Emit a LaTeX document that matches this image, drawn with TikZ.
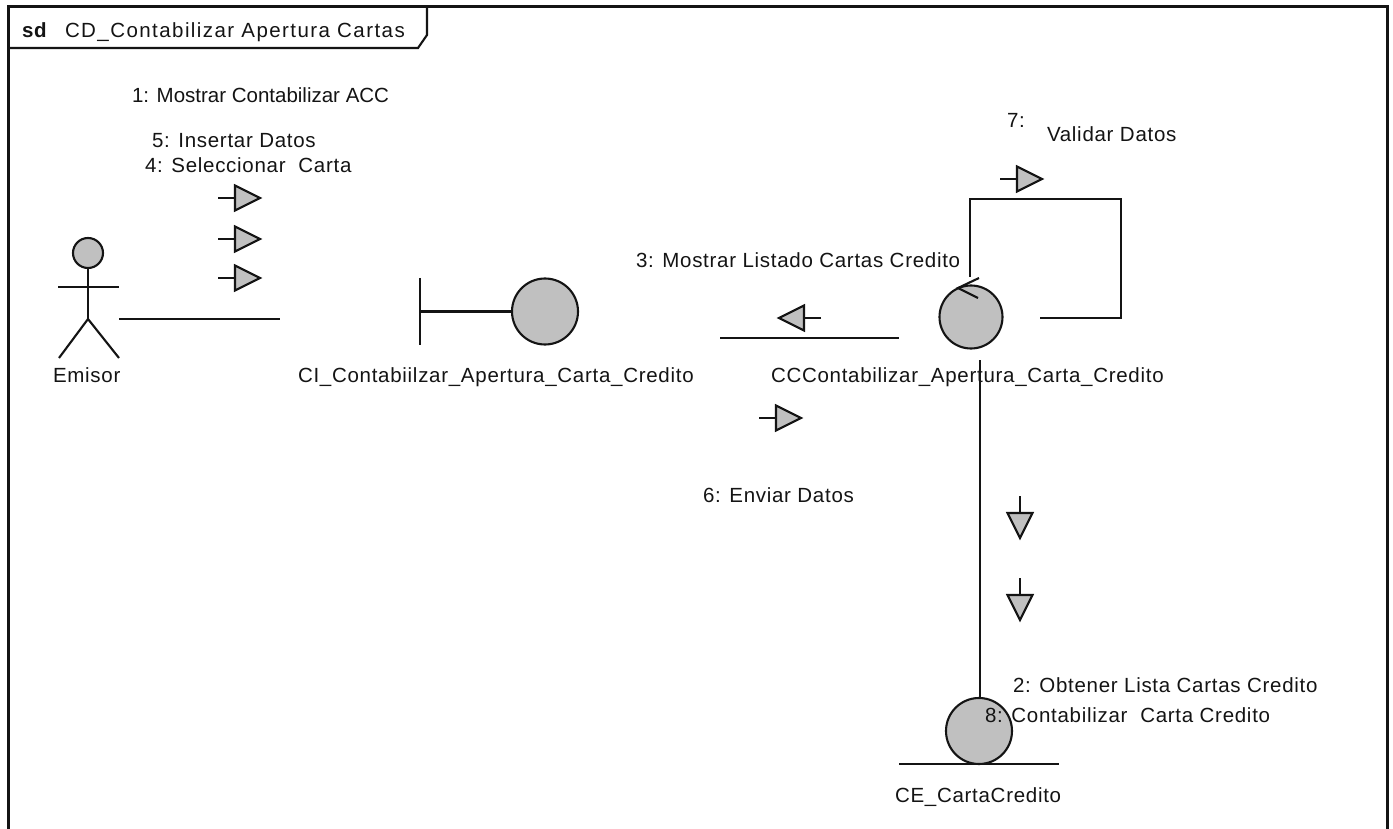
\documentclass[tikz,border=0pt]{standalone}
\usepackage{fontspec}
\setmainfont{Liberation Sans}[LetterSpace=3.5]
\definecolor{umlgray}{RGB}{192,192,192}
\definecolor{umlink}{RGB}{20,20,20}
\tikzset{
  ln/.style={line width=2.1pt, draw=umlink},
  shapebody/.style={circle, ln, fill=umlgray, inner sep=0pt},
  lbl/.style={anchor=base west, inner sep=0pt, outer sep=0pt, text=umlink},
  msgarrow/.pic={
    \draw[ln] (0,0) -- (17,0);
    \draw[ln, fill=umlgray, line join=miter] (17,-12.5) -- (42,0) -- (17,12.5) -- cycle;
  }
}
\begin{document}
\begin{tikzpicture}[x=1pt,y=-1pt,
  every node/.append style={font=\fontsize{20.5}{24}\selectfont}]
\useasboundingbox (0,0) rectangle (1393,829);
\fill[white] (0,0) rectangle (1393,829);

% diagram frame with its name tab
\draw[ln, line width=2.4pt] (8.5,829) -- (8.5,6.5) -- (1387.5,6.5) -- (1387.5,829);
\draw[ln] (8.5,48) -- (418,48) -- (427,35) -- (427,6.5);
\node[lbl, font=\fontsize{20.5}{24}\selectfont\bfseries] (sdTag) at (22,38) {sd};
\node[lbl, font=\fontsize{20.5}{24}\selectfont\addfontfeature{LetterSpace=7}] (frameName) at (65,38) {CD\_Contabilizar Apertura Cartas};

% actor
\node[shapebody, minimum size=30pt] (emisorHead) at (88,253) {};
\coordinate (hip) at (88,319);
\coordinate (armL) at (58,287);
\coordinate (armR) at (119,287);
\coordinate (footL) at (59,358);
\coordinate (footR) at (119,358);
\draw[ln] (emisorHead.south) -- (hip);
\draw[ln] (armL) -- (armR);
\draw[ln] (footL) -- (hip) -- (footR);
\node[lbl] (emisorLbl) at (53,382) {Emisor};

% boundary
\node[shapebody, minimum size=66pt] (ci) at (545,311.5) {};
\coordinate (ciBarTop) at (420,278);
\coordinate (ciBarBot) at (420,345);
\coordinate (ciBarMid) at (420,311.5);
\draw[ln] (ciBarTop) -- (ciBarBot);
\draw[ln] (ciBarMid) -- (ci.west);
\node[lbl] (ciLbl) at (298,382) {CI\_Contabiilzar\_Apertura\_Carta\_Credito};

% control
\node[shapebody, minimum size=63pt] (cc) at (971,317) {};
\coordinate (ccTip) at (958,288);
\draw[ln] (979,278) -- (ccTip) -- (978,298);
\node[lbl] (ccLbl) at (771,382) {CCContabilizar\_Apertura\_Carta\_Credito};

% entity
\node[shapebody, minimum size=66pt] (ce) at (979,731) {};
\coordinate (ceBaseL) at (899,764);
\coordinate (ceBaseR) at (1059,764);
\draw[ln] (ceBaseL) -- (ceBaseR);
\node[lbl] (ceLbl) at (895,802) {CE\_CartaCredito};

% links
\coordinate (l1a) at (119,319);
\coordinate (l1b) at (280,319);
\draw[ln] (l1a) -- (l1b);
\coordinate (l2a) at (720,338);
\coordinate (l2b) at (899,338);
\draw[ln] (l2a) -- (l2b);
\coordinate (l3a) at (980,360);
\draw[ln] (l3a) -- (ce.north -| l3a);
\coordinate (loopA) at (1040,318);
\coordinate (loopB) at (1121,318);
\coordinate (loopC) at (1121,199);
\coordinate (loopD) at (970,199);
\coordinate (loopE) at (970,277);
\draw[ln] (loopA) -- (loopB) -- (loopC) -- (loopD) -- (loopE);

% message arrows
\pic at (218,198) {msgarrow};
\pic at (218,239) {msgarrow};
\pic at (218,278) {msgarrow};
\pic[xscale=-1] at (821,318) {msgarrow};
\pic at (759,418) {msgarrow};
\pic at (1000,179) {msgarrow};
\pic[rotate=-90] at (1020,496) {msgarrow};
\pic[rotate=-90] at (1020,578) {msgarrow};

% message labels
\node[lbl, font=\fontsize{20.5}{24}\selectfont\addfontfeature{LetterSpace=0}] (m1) at (132,103) {1: Mostrar Contabilizar ACC};
\node[lbl] (m5) at (152,148) {5: Insertar Datos};
\node[lbl] (m4) at (145,173) {4: Seleccionar\ \ Carta};
\node[lbl] (m3) at (636,268) {3: Mostrar Listado Cartas Credito};
\node[lbl] (m7n) at (1007,128) {7:};
\node[lbl] (m7) at (1047,142) {Validar Datos};
\node[lbl] (m6) at (703,502) {6: Enviar Datos};
\node[lbl] (m2) at (1013,692) {2: Obtener Lista Cartas Credito};
\node[lbl] (m8) at (985,722) {8: Contabilizar\ \ Carta Credito};
\end{tikzpicture}
\end{document}
